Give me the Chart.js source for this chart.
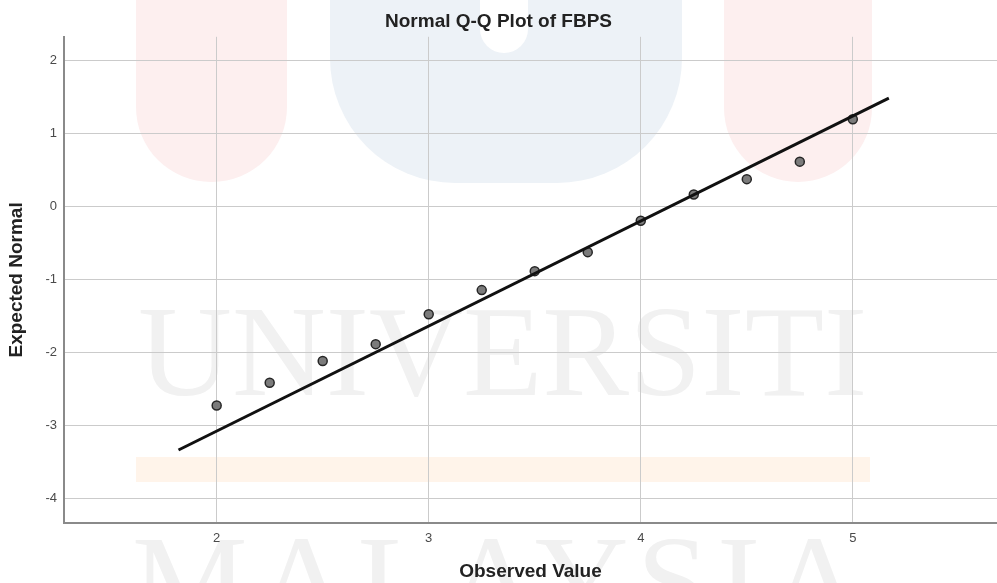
<!DOCTYPE html>
<html>
<head>
<meta charset="utf-8">
<title>Normal Q-Q Plot of FBPS</title>
<script src="https://cdn.jsdelivr.net/npm/chart.js@4/dist/chart.umd.min.js"></script>
<style>
  html, body { margin: 0; padding: 0; background: #fff; }
  #wrap { width: 997px; height: 583px; }
</style>
</head>
<body>
<div id="wrap"><canvas id="qq-chart" width="997" height="583"></canvas></div>
<script>
  const observed = [2, 2.25, 2.5, 2.75, 3, 3.25, 3.5, 3.75, 4, 4.25, 4.5, 4.75, 5];
  const expected = [-2.72, -2.41, -2.11, -1.88, -1.47, -1.14, -0.88, -0.62, -0.19, 0.17, 0.38, 0.62, 1.20];

  // reference line end points
  const refLineX = [1.82, 5.17];
  const refLineY = [-3.33, 1.49];

  // tick labels
  const xTicks = [2, 3, 4, 5];
  const yTicks = [-4, -3, -2, -1, 0, 1, 2];

  const qqPoints = observed.map((x, i) => ({ x: x, y: expected[i] }));
  const refLine = refLineX.map((x, i) => ({ x: x, y: refLineY[i] }));

  // faint university watermark behind the plot
  const watermark = {
    id: 'watermark',
    beforeDraw(chart) {
      const ctx = chart.ctx;
      ctx.save();
      ctx.fillStyle = '#ffffff';
      ctx.fillRect(0, 0, chart.width, chart.height);

      ctx.fillStyle = '#fdefef';
      ctx.beginPath();
      ctx.roundRect(136, -80, 151, 262, [0, 0, 75, 75]);
      ctx.roundRect(724, -80, 148, 262, [0, 0, 74, 74]);
      ctx.fill();

      ctx.fillStyle = '#edf2f7';
      ctx.beginPath();
      ctx.roundRect(330, -80, 352, 263, [0, 0, 125, 125]);
      ctx.fill();
      ctx.fillStyle = '#ffffff';
      ctx.beginPath();
      ctx.roundRect(480, -40, 48, 93, [0, 0, 24, 24]);
      ctx.fill();

      ctx.fillStyle = '#fff4ea';
      ctx.fillRect(136, 457, 734, 25);

      ctx.fillStyle = '#f1f1f1';
      ctx.font = '130px "Liberation Serif", "DejaVu Serif", serif';
      ctx.textBaseline = 'alphabetic';
      ctx.letterSpacing = '0px';
      ctx.fillText('UNIVERSITI', 138, 395);
      ctx.letterSpacing = '8px';
      ctx.fillText('MALAYSIA', 132, 625);
      ctx.restore();
    }
  };

  document.addEventListener('DOMContentLoaded', function () {
    const ctx = document.getElementById('qq-chart').getContext('2d');
    new Chart(ctx, {
      type: 'scatter',
      data: {
        datasets: [
          {
            label: 'Reference',
            type: 'line',
            data: refLine,
            borderColor: '#111111',
            borderWidth: 3,
            pointRadius: 0,
            fill: false,
            order: 0
          },
          {
            label: 'FBPS',
            data: qqPoints,
            backgroundColor: '#7b7b7b',
            borderColor: '#262626',
            borderWidth: 1.5,
            pointRadius: 4.5,
            order: 1
          }
        ]
      },
      options: {
        responsive: false,
        animation: false,
        devicePixelRatio: 1,
        layout: { padding: 0, autoPadding: false },
        plugins: {
          legend: { display: false },
          tooltip: { enabled: false },
          title: {
            display: true,
            text: 'Normal Q-Q Plot of FBPS',
            color: '#222222',
            font: { family: 'Arial, "Liberation Sans", sans-serif', size: 19, weight: 'bold' },
            padding: { top: 10, bottom: 4 }
          }
        },
        scales: {
          x: {
            type: 'linear',
            min: 1.28,
            max: 5.68,
            afterBuildTicks: s => { s.ticks = xTicks.map(v => ({ value: v })); },
            afterFit: s => { s.height = 60; },
            grid: { color: '#cbcbcb', lineWidth: 1, drawTicks: false },
            border: { color: '#8a8a8a', width: 2 },
            ticks: {
              color: '#4a4a4a',
              padding: 8,
              font: { family: 'Arial, "Liberation Sans", sans-serif', size: 13 }
            },
            title: {
              display: true,
              text: 'Observed Value',
              color: '#222222',
              font: { family: 'Arial, "Liberation Sans", sans-serif', size: 19, weight: 'bold' },
              padding: { top: 0, bottom: 0 }
            }
          },
          y: {
            type: 'linear',
            min: -4.33,
            max: 2.33,
            afterBuildTicks: s => { s.ticks = yTicks.map(v => ({ value: v })); },
            afterFit: s => { s.width = 64; },
            grid: { color: '#cbcbcb', lineWidth: 1, drawTicks: false },
            border: { color: '#8a8a8a', width: 2 },
            ticks: {
              color: '#4a4a4a',
              padding: 7,
              font: { family: 'Arial, "Liberation Sans", sans-serif', size: 13 }
            },
            title: {
              display: true,
              text: 'Expected Normal',
              color: '#222222',
              font: { family: 'Arial, "Liberation Sans", sans-serif', size: 19, weight: 'bold' },
              padding: { top: 5, bottom: 0 }
            }
          }
        }
      },
      plugins: [watermark]
    });
  });
</script>
</body>
</html>
